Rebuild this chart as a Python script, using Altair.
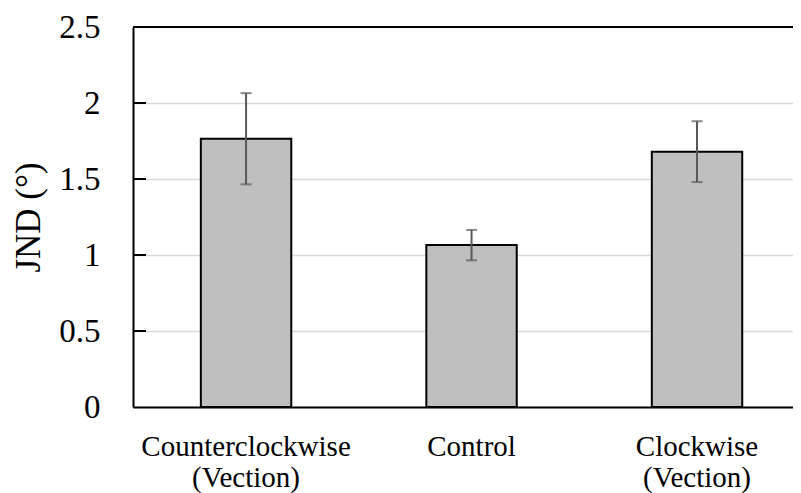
import altair as alt
import pandas as pd

categories = ["Counterclockwise (Vection)", "Control", "Clockwise (Vection)"]
jnd_mean = [1.765, 1.065, 1.68]
jnd_err = [0.30, 0.10, 0.20]
tick_values = [0, 0.5, 1, 1.5, 2, 2.5]

df = pd.DataFrame({
    "cond": categories,
    "jnd": jnd_mean,
    "lo": [m - e for m, e in zip(jnd_mean, jnd_err)],
    "hi": [m + e for m, e in zip(jnd_mean, jnd_err)],
})
ticks_df = pd.DataFrame({"v": tick_values[1:-1]})
top_df = pd.DataFrame({"v": [2.5]})

W, H = 660, 380
FONT = "Liberation Serif"

xscale = alt.Scale(domain=categories, paddingInner=0.599, paddingOuter=0.263, align=0.572)
yscale = alt.Scale(domain=[0, 2.5], nice=False)

x_enc = alt.X("cond:N", scale=xscale, sort=categories, title=None,
              axis=alt.Axis(labelAngle=0, labelFont=FONT, labelFontSize=29, labelColor="black",
                            labelExpr="split(replace(datum.label, ' (', '|('), '|')",
                            labelLineHeight=31, labelPadding=25, labelBaseline="top",
                            labelLimit=0, ticks=False, domainColor="black", domainWidth=2))
y_axis = alt.Axis(values=tick_values, format="~g", labelFont=FONT, labelFontSize=33, labelColor="black",
                  labelPadding=33, ticks=False, domainColor="black", domainWidth=2,
                  grid=True, gridColor="#d9d9d9", gridWidth=1.5,
                  title="JND (°)", titleFont=FONT, titleFontSize=35, titleFontWeight="normal",
                  titleColor="black", titlePadding=12)

base = alt.Chart(df)

bars = base.mark_bar(fill="#bfbfbf", stroke="black", strokeWidth=2).encode(
    x=x_enc,
    y=alt.Y("jnd:Q", scale=yscale, axis=y_axis),
)
err = base.mark_rule(color="#595959", strokeWidth=2).encode(
    x=alt.X("cond:N", scale=xscale, sort=categories),
    y="lo:Q", y2="hi:Q",
)
cap_lo = base.mark_tick(color="#595959", thickness=2, size=11, orient="horizontal").encode(
    x=alt.X("cond:N", scale=xscale, sort=categories), y="lo:Q")
cap_hi = base.mark_tick(color="#595959", thickness=2, size=11, orient="horizontal").encode(
    x=alt.X("cond:N", scale=xscale, sort=categories), y="hi:Q")

inner_ticks = alt.Chart(ticks_df).mark_rule(color="black", strokeWidth=2).encode(
    x=alt.value(0), x2=alt.value(13), y=alt.Y("v:Q", scale=yscale))
top_border = alt.Chart(top_df).mark_rule(color="black", strokeWidth=2).encode(
    x=alt.value(0), x2=alt.value(W), y=alt.Y("v:Q", scale=yscale))

chart = alt.layer(bars, err, cap_lo, cap_hi, inner_ticks, top_border).properties(
    width=W, height=H,
    autosize=alt.AutoSizeParams(type="none"),
    padding={"left": 125, "top": 19, "right": 0, "bottom": 86},
).configure_view(stroke=None).configure(background="white")

chart.save("out.html", embed_options={"renderer": "svg", "actions": False})
